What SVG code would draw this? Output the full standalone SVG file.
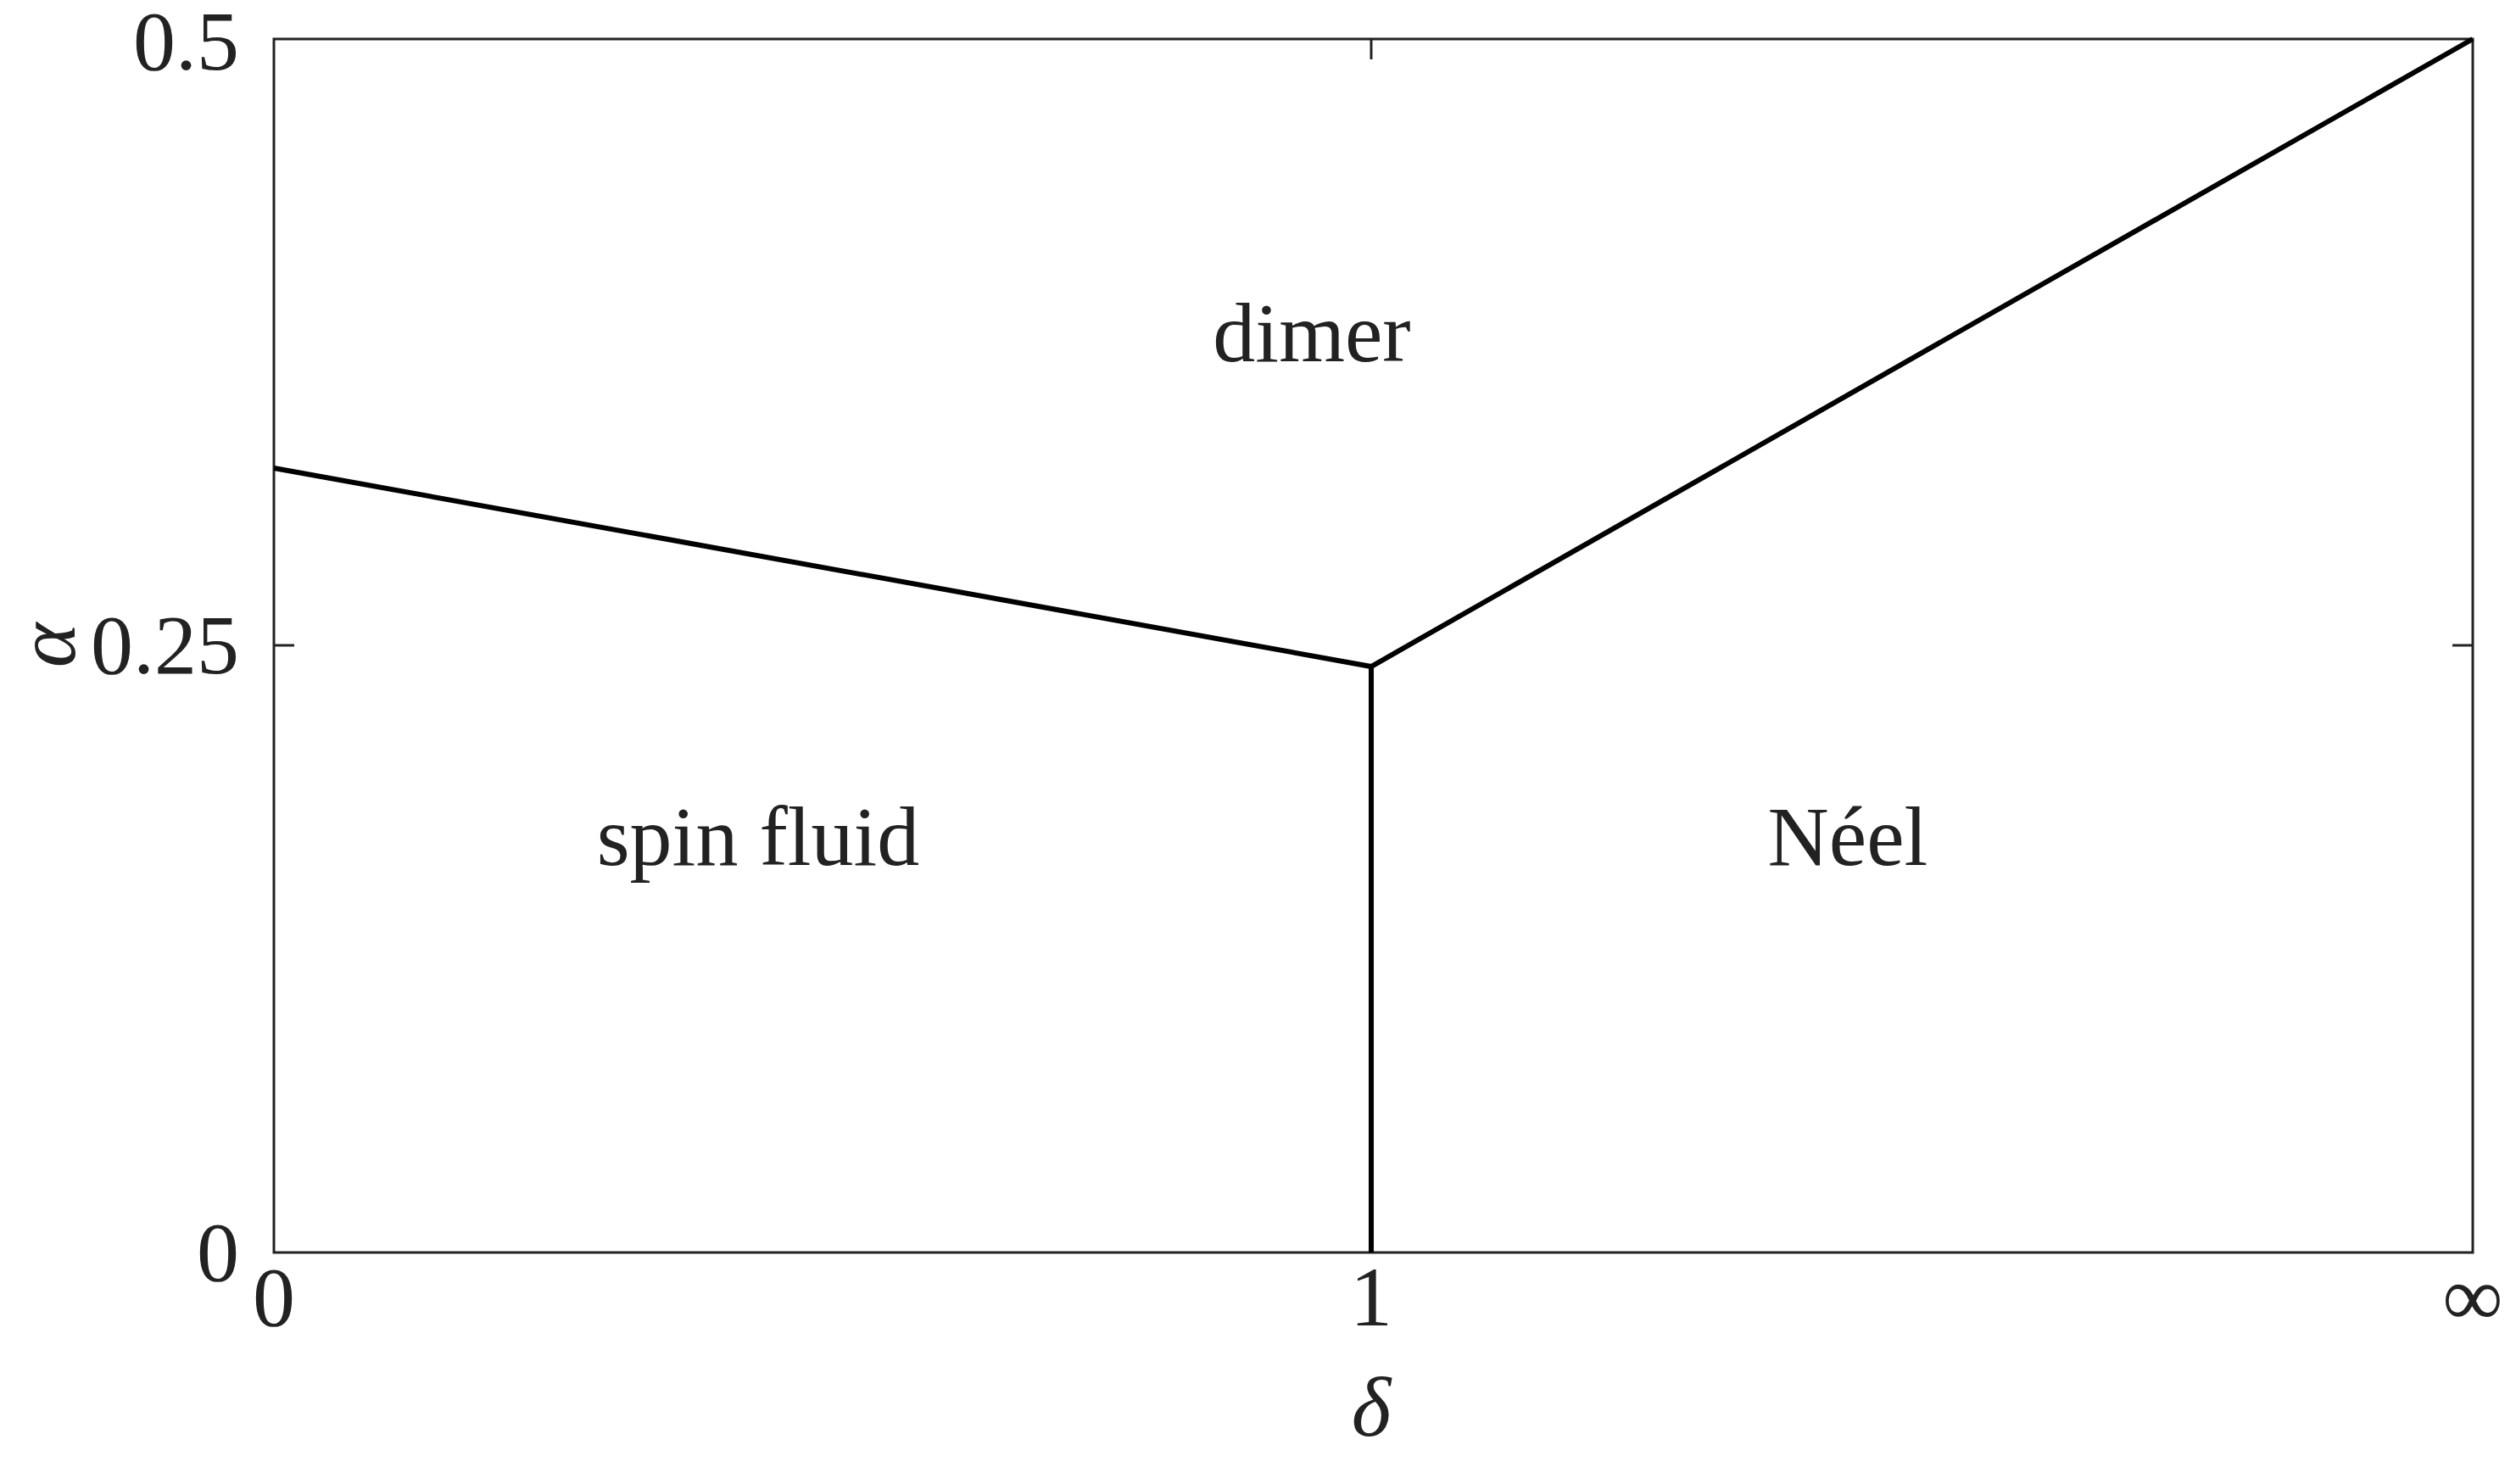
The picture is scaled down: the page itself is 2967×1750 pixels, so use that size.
<svg xmlns="http://www.w3.org/2000/svg" width="2967" height="1750" viewBox="0 0 2967 1750">
<style>
text{font-family:"Liberation Serif","Times New Roman",serif;font-size:100px;fill:#222}
.ax{fill:none;stroke:#222;stroke-width:3}
.b{fill:none;stroke:#000;stroke-width:6}
</style>
<rect width="2967" height="1750" fill="#fff"/>
<g id="axes">
<rect class="ax" x="323" y="46" width="2593" height="1431"/>
<path class="ax" d="M1617 46v24M1617 1477v-24M323 761h24M2916 761h-24"/>
<text x="282" y="82" text-anchor="end">0.5</text>
<text x="282" y="794" text-anchor="end">0.25</text>
<text x="282" y="1510" text-anchor="end">0</text>
<text x="323" y="1563" text-anchor="middle">0</text>
<text x="1617" y="1563" text-anchor="middle">1</text>
<text x="2916" y="1563" text-anchor="middle" font-size="120">∞</text>
<text x="1617" y="1693" text-anchor="middle" font-style="italic">δ</text>
<text transform="translate(88 761) rotate(-90)" text-anchor="middle" font-style="italic">α</text>
</g>
<g id="connectors">
<path class="b" d="M323 552L1617 786L2916 46M1617 786V1477"/>
</g>
<g id="dimer"><text x="1547" y="426" text-anchor="middle">dimer</text></g>
<g id="spinfluid"><text x="894" y="1020" text-anchor="middle">spin fluid</text></g>
<g id="neel"><text x="2179" y="1020" text-anchor="middle">Néel</text></g>
</svg>
